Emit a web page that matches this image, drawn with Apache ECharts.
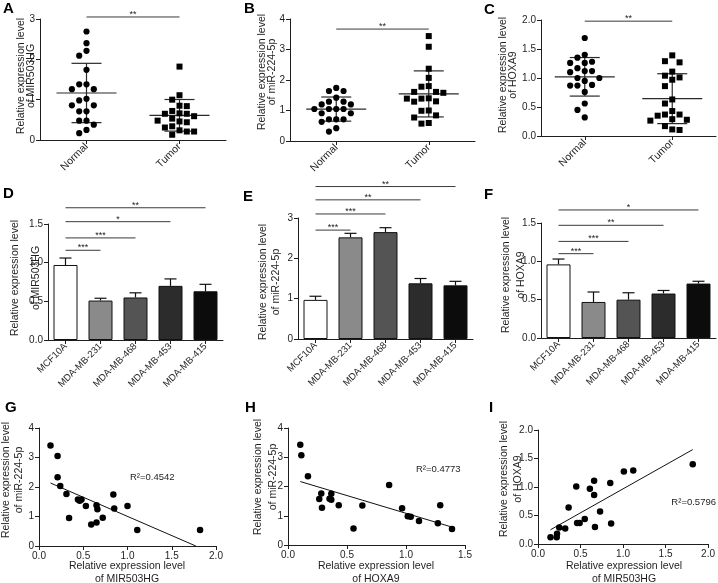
<!DOCTYPE html>
<html><head><meta charset="utf-8">
<script src="https://cdn.jsdelivr.net/npm/echarts@6/dist/echarts.min.js"></script>
<style>html,body{margin:0;padding:0;background:#fff}#c{width:718px;height:583px}</style>
</head><body><div id="c"></div>
<script>
// ---------- data ----------
const groups = ['Normal', 'Tumor'];
const cellLines = ['MCF10A', 'MDA-MB-231', 'MDA-MB-468', 'MDA-MB-453', 'MDA-MB-415'];

// A: MIR503HG
const aNormal = [2.69, 2.40, 2.21, 2.09, 1.74, 1.38, 1.38, 1.26, 1.26, 1.02, 0.98, 0.86, 0.86, 0.71, 0.71, 0.48, 0.48, 0.38, 0.25, 0.17];
const aTumor  = [1.82, 1.11, 1.00, 0.85, 0.84, 0.72, 0.66, 0.65, 0.65, 0.59, 0.53, 0.48, 0.46, 0.44, 0.34, 0.31, 0.24, 0.21, 0.21, 0.13];
// B: miR-224-5p
const bNormal = [1.74, 1.64, 1.64, 1.42, 1.29, 1.29, 1.20, 1.20, 1.05, 1.05, 1.05, 1.05, 0.91, 0.91, 0.71, 0.71, 0.71, 0.63, 0.42, 0.31];
const bTumor  = [3.44, 3.09, 2.37, 2.07, 1.80, 1.78, 1.61, 1.61, 1.58, 1.40, 1.39, 1.39, 1.30, 1.29, 1.00, 0.99, 0.84, 0.77, 0.59, 0.57];
// C: HOXA9
const cNormal = [1.69, 1.40, 1.35, 1.28, 1.26, 1.26, 1.17, 1.12, 1.12, 1.10, 1.00, 1.00, 0.95, 0.88, 0.87, 0.87, 0.76, 0.56, 0.45, 0.32];
const cTumor  = [1.39, 1.29, 1.27, 1.11, 1.04, 1.01, 0.97, 0.86, 0.63, 0.56, 0.43, 0.37, 0.37, 0.35, 0.29, 0.28, 0.265, 0.17, 0.113, 0.104];

// D/E/F: cell lines (mean, upper SD)
const dMean = [0.97, 0.51, 0.55, 0.70, 0.63];
const dErr  = [0.09, 0.03, 0.06, 0.09, 0.09];
const eMean = [0.97, 2.52, 2.65, 1.38, 1.33];
const eErr  = [0.09, 0.10, 0.11, 0.12, 0.10];
const fMean = [0.96, 0.47, 0.50, 0.58, 0.71];
const fErr  = [0.07, 0.13, 0.09, 0.04, 0.03];

// significance annotations: [from, to, height, label]
const sigA = [[0, 1, 3.05, '**']];
const sigB = [[0, 1, 3.67, '**']];
const sigC = [[0, 1, 1.98, '**']];
const sigD = [[0, 4, 1.71, '**'], [0, 3, 1.53, '*'], [0, 2, 1.32, '***'], [0, 1, 1.16, '***']];
const sigE = [[0, 4, 3.78, '**'], [0, 3, 3.45, '**'], [0, 2, 3.10, '***'], [0, 1, 2.70, '***']];
const sigF = [[0, 4, 1.67, '*'], [0, 3, 1.47, '**'], [0, 2, 1.26, '***'], [0, 1, 1.10, '***']];

// G: MIR503HG vs miR-224-5p
const gX = [0.13, 0.21, 0.21, 0.24, 0.31, 0.34, 0.44, 0.46, 0.48, 0.53, 0.59, 0.65, 0.65, 0.66, 0.72, 0.84, 0.85, 1.00, 1.11, 1.82];
const gY = [3.41, 3.05, 2.33, 2.03, 1.76, 0.95, 1.58, 1.53, 1.58, 1.36, 0.73, 1.38, 0.80, 1.25, 0.96, 1.75, 1.27, 1.36, 0.54, 0.54];
// H: HOXA9 vs miR-224-5p
const hX = [0.104, 0.113, 0.169, 0.265, 0.282, 0.288, 0.352, 0.367, 0.367, 0.43, 0.555, 0.63, 0.857, 0.967, 1.015, 1.04, 1.11, 1.27, 1.29, 1.39];
const hY = [3.43, 3.07, 2.35, 1.57, 1.76, 1.27, 1.58, 1.55, 1.75, 1.36, 0.56, 1.35, 2.05, 1.26, 0.98, 0.97, 0.82, 0.74, 1.36, 0.55];
// I: MIR503HG vs HOXA9
const iX = [0.147, 0.22, 0.224, 0.25, 0.32, 0.36, 0.45, 0.46, 0.49, 0.55, 0.61, 0.66, 0.66, 0.67, 0.73, 0.85, 0.86, 1.01, 1.12, 1.82];
const iY = [0.117, 0.117, 0.18, 0.29, 0.27, 0.64, 1.01, 0.37, 0.37, 0.44, 0.97, 1.11, 0.86, 0.30, 0.57, 1.07, 0.36, 1.27, 1.29, 1.40];

const r2Labels = ['R\u00b2=0.4542', 'R\u00b2=0.4773', 'R\u00b2=0.5796'];

// ---------- helpers ----------
const FONT = '"Liberation Sans", Arial, sans-serif';
const INK = '#1e1e1e';
const barColors = ['#ffffff', '#8a8a8a', '#545454', '#2c2c2c', '#0c0c0c'];

function meanSd(arr) {
  const n = arr.length;
  const m = arr.reduce((a, b) => a + b, 0) / n;
  const sd = Math.sqrt(arr.reduce((a, b) => a + (b - m) * (b - m), 0) / (n - 1));
  return [m, sd];
}
function swarmOffsets(api, cat, values) {
  const d = 7.3;
  const ys = values.map(v => api.coord([cat, v])[1]);
  const order = values.map((_, i) => i).sort((a, b) => ys[a] - ys[b]);
  const placed = [];
  const off = new Array(values.length).fill(0);
  order.forEach(i => {
    for (let k = 0; k < 40; k++) {
      const step = Math.ceil(k / 2) * (k % 2 === 1 ? -1 : 1);
      const c = step * d;
      if (placed.every(p => Math.hypot(p[0] - c, p[1] - ys[i]) >= d)) {
        off[i] = c; placed.push([c, ys[i]]); break;
      }
    }
  });
  return off;
}
function swarm(ax, cat, values, shape) {
  return {
    type: 'custom', xAxisIndex: ax, yAxisIndex: ax, clip: false, z: 4,
    data: values.map((v, i) => [cat, v, i]),
    renderItem: (params, api) => {
      const off = swarmOffsets(api, cat, values);
      const i = api.value(2);
      const p = api.coord([cat, api.value(1)]);
      const x = p[0] + off[i], y = p[1];
      return shape === 'circle'
        ? { type: 'circle', shape: { cx: x, cy: y, r: 3.1 }, style: { fill: '#000' } }
        : { type: 'rect', shape: { x: x - 3, y: y - 3, width: 6, height: 6 }, style: { fill: '#000' } };
    }
  };
}
function meanSdSeries(ax, sets) {
  return {
    type: 'custom', xAxisIndex: ax, yAxisIndex: ax, clip: false, z: 3,
    data: sets.map((arr, c) => { const r = meanSd(arr); return [c, r[0], r[1]]; }),
    renderItem: (params, api) => {
      const c = api.value(0), m = api.value(1), s = api.value(2);
      const pm = api.coord([c, m]), pu = api.coord([c, m + s]), pl = api.coord([c, m - s]);
      const st = { stroke: '#2a2a2a', lineWidth: 1.2 };
      return { type: 'group', children: [
        { type: 'line', shape: { x1: pm[0] - 30, y1: pm[1], x2: pm[0] + 30, y2: pm[1] }, style: st },
        { type: 'line', shape: { x1: pu[0] - 15, y1: pu[1], x2: pu[0] + 15, y2: pu[1] }, style: st },
        { type: 'line', shape: { x1: pl[0] - 15, y1: pl[1], x2: pl[0] + 15, y2: pl[1] }, style: st },
        { type: 'line', shape: { x1: pu[0], y1: pu[1], x2: pl[0], y2: pl[1] }, style: st }
      ] };
    }
  };
}
function sigSeries(ax, sigs) {
  return {
    type: 'custom', xAxisIndex: ax, yAxisIndex: ax, clip: false, z: 3,
    data: sigs.map(s => [s[0], s[1], s[2]]),
    renderItem: (params, api) => {
      const a = api.coord([api.value(0), api.value(2)]);
      const b = api.coord([api.value(1), api.value(2)]);
      const lbl = sigs[params.dataIndex][3];
      return { type: 'group', children: [
        { type: 'line', shape: { x1: a[0], y1: a[1], x2: b[0], y2: b[1] }, style: { stroke: '#3a3a3a', lineWidth: 1 } },
        { type: 'text', style: { text: lbl, x: (a[0] + b[0]) / 2, y: a[1] - 2.5, textAlign: 'center', textVerticalAlign: 'middle', align: 'center', verticalAlign: 'middle', fontSize: 9, fontFamily: FONT, fill: '#222' } }
      ] };
    }
  };
}
function barSeries(ax, means) {
  return {
    type: 'bar', xAxisIndex: ax, yAxisIndex: ax, barWidth: 24, z: 2,
    data: means.map((v, i) => ({ value: v, itemStyle: { color: barColors[i] } })),
    itemStyle: { borderColor: '#111', borderWidth: 1 }
  };
}
function errSeries(ax, means, errs) {
  return {
    type: 'custom', xAxisIndex: ax, yAxisIndex: ax, clip: false, z: 4,
    data: means.map((m, i) => [i, m, errs[i]]),
    renderItem: (params, api) => {
      const i = api.value(0), m = api.value(1), e = api.value(2);
      const a = api.coord([i, m]), b = api.coord([i, m + e]);
      const st = { stroke: '#111', lineWidth: 1.2 };
      return { type: 'group', children: [
        { type: 'line', shape: { x1: a[0], y1: a[1], x2: b[0], y2: b[1] }, style: st },
        { type: 'line', shape: { x1: b[0] - 6, y1: b[1], x2: b[0] + 6, y2: b[1] }, style: st }
      ] };
    }
  };
}
function regLine(xs, ys, yMin) {
  const n = xs.length;
  const mx = xs.reduce((a, b) => a + b, 0) / n, my = ys.reduce((a, b) => a + b, 0) / n;
  let sxy = 0, sxx = 0;
  for (let k = 0; k < n; k++) { sxy += (xs[k] - mx) * (ys[k] - my); sxx += (xs[k] - mx) * (xs[k] - mx); }
  const slope = sxy / sxx, icpt = my - slope * mx;
  let x0 = Math.min(...xs), x1 = Math.max(...xs);
  let y0 = icpt + slope * x0, y1 = icpt + slope * x1;
  if (y1 < yMin) { x1 = (yMin - icpt) / slope; y1 = yMin; }
  return [[x0, y0], [x1, y1]];
}
function scatterSeries(ax, xs, ys) {
  return { type: 'scatter', xAxisIndex: ax, yAxisIndex: ax, symbolSize: 6.5, z: 3,
    itemStyle: { color: '#000', opacity: 1 }, data: xs.map((x, k) => [x, ys[k]]) };
}
function lineSeries(ax, xs, ys, yMin) {
  return { type: 'line', xAxisIndex: ax, yAxisIndex: ax, symbol: 'none', z: 2,
    lineStyle: { color: '#111', width: 1 }, data: regLine(xs, ys, yMin) };
}

// ---------- layout ----------
const grids = [
  { left: 40, top: 19, width: 186, height: 121 },
  { left: 290, top: 19, width: 185, height: 122 },
  { left: 541, top: 20, width: 175, height: 116 },
  { left: 48, top: 224, width: 175, height: 116 },
  { left: 298, top: 218, width: 175, height: 121 },
  { left: 541, top: 223, width: 175, height: 115 },
  { left: 39, top: 428, width: 177, height: 118 },
  { left: 288, top: 428, width: 177, height: 117 },
  { left: 538, top: 430, width: 172, height: 114 }
];
const axLine = { show: true, lineStyle: { color: INK, width: 1 } };
const axTick = { show: true, length: 4, lineStyle: { color: INK, width: 1 } };
function yAx(g, max, interval, dec) {
  return { type: 'value', gridIndex: g, min: 0, max: max, interval: interval,
    axisLine: axLine, axisTick: axTick, splitLine: { show: false },
    axisLabel: { color: INK, fontSize: 10, fontFamily: FONT, margin: 5,
      formatter: v => dec ? v.toFixed(1) : String(v) } };
}
function xCat(g, cats, fs) {
  return { type: 'category', gridIndex: g, data: cats, boundaryGap: true,
    axisLine: axLine, axisTick: Object.assign({ alignWithLabel: true }, axTick), splitLine: { show: false },
    axisLabel: { color: INK, fontSize: fs, fontFamily: FONT, rotate: 45, margin: 5, interval: 0 } };
}
function xVal(g, max) {
  return { type: 'value', gridIndex: g, min: 0, max: max, interval: 0.5,
    axisLine: axLine, axisTick: axTick, splitLine: { show: false },
    axisLabel: { color: INK, fontSize: 10, fontFamily: FONT, margin: 5, formatter: v => v.toFixed(1) } };
}

// texts
const gTexts = [];
function txt(s, x, y, opts) {
  gTexts.push(Object.assign({ type: 'text', x: x, y: y, silent: true,
    style: { text: s, fill: INK, font: '10.5px ' + FONT, textAlign: 'center', textVerticalAlign: 'middle' } }, opts || {}));
}
function yTitle(l2, x1, x2, y) {
  txt('Relative expression level', x1, y, { rotation: Math.PI / 2 });
  txt(l2, x2, y, { rotation: Math.PI / 2 });
}
function letter(s, x, y) {
  gTexts.push({ type: 'text', x: x, y: y, silent: true,
    style: { text: s, fill: '#000', font: 'bold 15px ' + FONT, textAlign: 'left', textVerticalAlign: 'middle' } });
}
yTitle('of MIR503HG', 21, 31, 76);
yTitle('of miR-224-5p', 262, 272, 72);
yTitle('of HOXA9', 503, 513, 75);
yTitle('of MIR503HG', 15, 36, 278);
yTitle('of miR-224-5p', 263, 276, 282);
yTitle('of HOXA9', 506, 521, 275);
yTitle('of miR-224-5p', 6, 19, 480);
yTitle('of miR-224-5p', 258, 273, 477);
yTitle('of HOXA9', 504, 518, 479);
txt('Relative expression level', 127, 566); txt('of MIR503HG', 127, 579);
txt('Relative expression level', 376, 566); txt('of HOXA9', 376, 579);
txt('Relative expression level', 624, 566); txt('of MIR503HG', 624, 579);
[['A', 3, 9], ['B', 244, 9], ['C', 484, 10], ['D', 3, 194], ['E', 243, 197], ['F', 484, 195], ['G', 5, 408], ['H', 245, 408], ['I', 489, 408]]
  .forEach(l => letter(l[0], l[1], l[2]));
[[r2Labels[0], 130, 477, 'left'], [r2Labels[1], 416, 469, 'left'], [r2Labels[2], 716, 502, 'right']].forEach(r => {
  gTexts.push({ type: 'text', x: r[1], y: r[2], silent: true,
    style: { text: r[0], fill: INK, font: '9.5px ' + FONT, textAlign: r[3], textVerticalAlign: 'middle' } });
});

const option = {
  animation: false,
  backgroundColor: '#fff',
  grid: grids,
  xAxis: [
    xCat(0, groups, 10.5), xCat(1, groups, 10.5), xCat(2, groups, 10.5),
    xCat(3, cellLines, 9.5), xCat(4, cellLines, 9.5), xCat(5, cellLines, 9.5),
    xVal(6, 2), xVal(7, 1.5), xVal(8, 2)
  ],
  yAxis: [
    yAx(0, 3, 1, false), yAx(1, 4, 1, false), yAx(2, 2, 0.5, true),
    yAx(3, 1.5, 0.5, true), yAx(4, 3, 1, false), yAx(5, 1.5, 0.5, true),
    yAx(6, 4, 1, false), yAx(7, 4, 1, false), yAx(8, 2, 0.5, true)
  ],
  series: [
    swarm(0, 0, aNormal, 'circle'), swarm(0, 1, aTumor, 'square'), meanSdSeries(0, [aNormal, aTumor]), sigSeries(0, sigA),
    swarm(1, 0, bNormal, 'circle'), swarm(1, 1, bTumor, 'square'), meanSdSeries(1, [bNormal, bTumor]), sigSeries(1, sigB),
    swarm(2, 0, cNormal, 'circle'), swarm(2, 1, cTumor, 'square'), meanSdSeries(2, [cNormal, cTumor]), sigSeries(2, sigC),
    barSeries(3, dMean), errSeries(3, dMean, dErr), sigSeries(3, sigD),
    barSeries(4, eMean), errSeries(4, eMean, eErr), sigSeries(4, sigE),
    barSeries(5, fMean), errSeries(5, fMean, fErr), sigSeries(5, sigF),
    scatterSeries(6, gX, gY), lineSeries(6, gX, gY, 0),
    scatterSeries(7, hX, hY), lineSeries(7, hX, hY, 0),
    scatterSeries(8, iX, iY), lineSeries(8, iX, iY, 0)
  ],
  graphic: { elements: gTexts }
};
const chart = echarts.init(document.getElementById('c'), null, { renderer: 'canvas' });
chart.setOption(option);
</script></body></html>
